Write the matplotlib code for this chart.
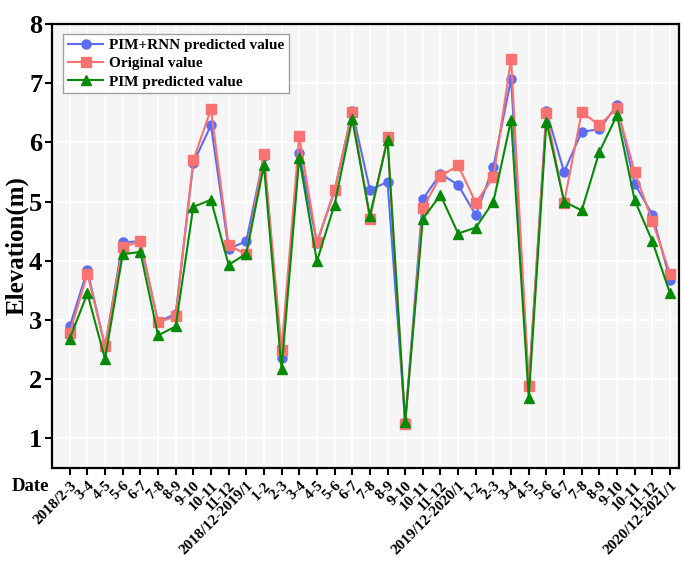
import matplotlib
matplotlib.use("Agg")
import matplotlib.pyplot as plt

# ------------------------------------------------------------
# data
# ------------------------------------------------------------
date_labels = ["2018/2-3", "3-4", "4-5", "5-6", "6-7", "7-8", "8-9", "9-10",
               "10-11", "11-12", "2018/12-2019/1", "1-2", "2-3", "3-4", "4-5",
               "5-6", "6-7", "7-8", "8-9", "9-10", "10-11", "11-12",
               "2019/12-2020/1", "1-2", "2-3", "3-4", "4-5", "5-6", "6-7",
               "7-8", "8-9", "9-10", "10-11", "11-12", "2020/12-2021/1"]

pim_rnn = [2.89, 3.84, 2.55, 4.31, 4.33, 2.97, 3.10, 5.65, 6.29, 4.20, 4.33,
           5.77, 2.36, 5.82, 4.30, 5.18, 6.53, 5.20, 5.33, 1.27, 5.04, 5.47,
           5.28, 4.77, 5.59, 7.07, 1.88, 6.53, 5.50, 6.18, 6.22, 6.63, 5.30,
           4.78, 3.68]

original = [2.78, 3.78, 2.56, 4.23, 4.33, 2.96, 3.06, 5.70, 6.56, 4.26, 4.11,
            5.80, 2.50, 6.10, 4.31, 5.19, 6.51, 4.70, 6.09, 1.24, 4.89, 5.43,
            5.61, 4.98, 5.41, 7.41, 1.88, 6.50, 4.98, 6.51, 6.29, 6.58, 5.50,
            4.67, 3.78]

pim = [2.68, 3.45, 2.34, 4.11, 4.15, 2.74, 2.89, 4.91, 5.03, 3.93, 4.12,
       5.61, 2.17, 5.74, 3.99, 4.95, 6.39, 4.76, 6.04, 1.27, 4.71, 5.11,
       4.46, 4.56, 5.00, 6.38, 1.68, 6.35, 5.00, 4.85, 5.84, 6.46, 5.02,
       4.33, 3.45]

x = list(range(1, len(date_labels) + 1))

plt.rcParams["font.family"] = ["Liberation Serif", "DejaVu Serif"]
plt.rcParams["font.weight"] = "bold"

fig = plt.figure(figsize=(6.85, 5.7), dpi=100)
ax = fig.add_axes([0.076, 0.179, 0.915, 0.779])
ax.set_facecolor("#f5f5f5")

ax.plot(x, pim_rnn, color="#5b6cf2", marker="o", markersize=6.5, lw=1.5,
        label="PIM+RNN predicted value", zorder=3)
ax.plot(x, original, color="#f87272", marker="s", markersize=7, lw=1.5,
        label="Original value", zorder=4)
ax.plot(x, pim, color="#078a07", marker="^", markersize=7.5, lw=1.5,
        label="PIM predicted value", zorder=5)

ax.set_xlim(0, 35.5)
ax.set_ylim(0.5, 8)
ax.set_yticks(range(1, 9))
ax.set_xticks(x)
ax.set_xticklabels(date_labels, rotation=45, ha="right", rotation_mode="anchor",
                   fontsize=11, fontweight="bold")
ax.tick_params(axis="y", labelsize=19, width=1.5, length=5, direction="out",
               pad=2)
ax.tick_params(axis="x", width=1.5, length=5, direction="out", pad=3)
for lab in ax.get_yticklabels():
    lab.set_fontweight("bold")

ax.grid(True, color="white", lw=1.2)
ax.set_axisbelow(True)
for s in ax.spines.values():
    s.set_linewidth(1.6)

ax.set_ylabel("Elevation(m)", fontsize=18, fontweight="bold")
ax.yaxis.set_label_coords(-0.037, 0.5)
fig.text(0.045, 0.146, "Date", fontsize=13.5, fontweight="bold",
         ha="center", va="center")

leg = ax.legend(loc="upper left", fontsize=11, handlelength=2.3,
                fancybox=False, edgecolor="#a0a0a0", framealpha=1,
                borderpad=0.3, labelspacing=0.3, handletextpad=0.4,
                bbox_to_anchor=(0.006, 0.995))
leg.get_frame().set_linewidth(1.0)
for t in leg.get_texts():
    t.set_fontweight("bold")

plt.savefig("out.png", dpi=100)
